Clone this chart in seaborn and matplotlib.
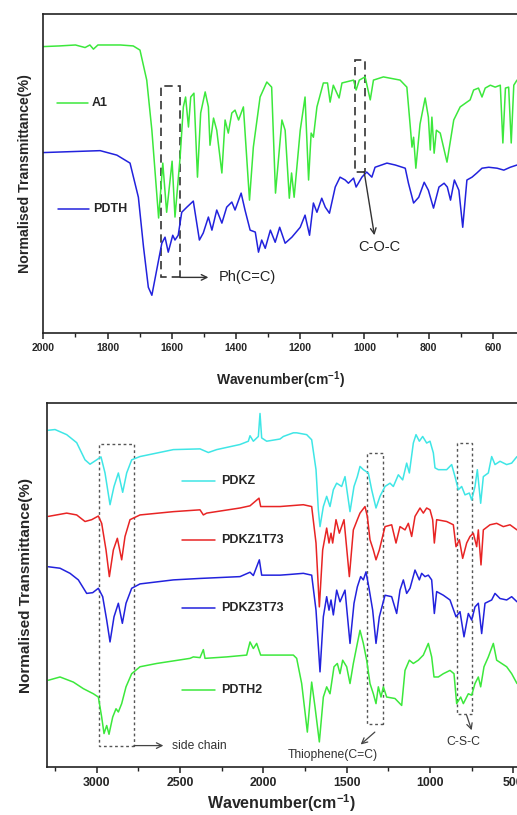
import matplotlib
matplotlib.use("Agg")
import matplotlib.pyplot as plt
from matplotlib.patches import Rectangle
from matplotlib.ticker import MultipleLocator
import seaborn as sns
import pandas as pd

# ---------------- data (top panel) ----------------
a1_wn = [2000, 1950, 1900, 1870, 1855, 1844, 1830, 1760, 1720, 1699, 1678, 1662, 1641, 1628, 1616,
         1599, 1590, 1574, 1564, 1557, 1548, 1541, 1531, 1520, 1510, 1496, 1486, 1481, 1470, 1460,
         1444, 1434, 1424, 1413, 1403, 1392, 1377, 1358, 1346, 1325, 1304, 1289, 1277, 1257, 1247,
         1234, 1227, 1219, 1200, 1185, 1174, 1166, 1159, 1148, 1128, 1115, 1107, 1097, 1079, 1070,
         1034, 1026, 1016, 998, 982, 972, 941, 889, 868, 858, 852, 847, 840, 827, 811, 801, 795,
         790, 783, 776, 764, 743, 722, 702, 681, 671, 660, 645, 634, 624, 608, 593, 577, 569, 561,
         551, 543, 535, 525]
a1_t = [89.8, 90.0, 90.3, 89.5, 90.3, 89.0, 90.3, 90.3, 90.0, 88.7, 79.3, 63.6, 36.1, 53.3, 37.9,
        53.9, 36.4, 55.2, 70.9, 74.0, 64.6, 74.0, 75.2, 48.9, 69.0, 75.6, 70.9, 58.9, 67.4, 63.6,
        50.2, 66.8, 62.7, 69.0, 69.9, 66.8, 70.9, 41.7, 58.3, 74.0, 78.7, 77.1, 43.9, 66.8, 63.6,
        42.3, 50.2, 42.6, 63.6, 74.0, 48.0, 62.7, 61.4, 70.9, 78.4, 78.4, 72.4, 77.7, 73.7, 78.4,
        79.3, 76.2, 79.3, 80.3, 73.1, 79.3, 80.3, 79.3, 77.1, 65.5, 58.3, 61.4, 51.7, 65.5, 73.7,
        67.7, 57.4, 67.7, 56.4, 63.6, 62.7, 53.6, 66.8, 70.9, 72.4, 73.1, 76.2, 76.8, 74.0, 76.8,
        77.7, 77.1, 77.7, 59.6, 76.8, 77.1, 59.6, 77.7, 79.3]

pdth_wn = [2000, 1823, 1771, 1730, 1704, 1688, 1673, 1662, 1647, 1631, 1621, 1611, 1597, 1590, 1580,
           1569, 1553, 1533, 1514, 1502, 1486, 1475, 1460, 1444, 1429, 1413, 1403, 1384, 1372, 1356,
           1340, 1330, 1320, 1309, 1293, 1278, 1264, 1247, 1226, 1200, 1185, 1171, 1159, 1148, 1133,
           1122, 1109, 1091, 1076, 1060, 1050, 1034, 1026, 1008, 993, 977, 967, 930, 904, 873, 863,
           847, 831, 814, 801, 785, 768, 752, 742, 732, 720, 706, 694, 681, 665, 650, 634, 613, 587,
           566, 546, 525]
pdth_t = [56.6, 57.2, 55.8, 53.3, 42.6, 27.0, 14.4, 11.9, 19.8, 28.2, 30.1, 25.4, 30.7, 29.2, 30.7,
          37.9, 39.5, 41.4, 29.2, 31.4, 36.4, 32.3, 38.6, 34.5, 39.5, 41.1, 38.6, 43.9, 38.6, 32.3,
          31.7, 25.4, 29.2, 26.6, 32.3, 28.5, 33.2, 28.2, 30.1, 33.2, 37.0, 30.7, 40.8, 37.9, 42.3,
          39.5, 37.6, 45.8, 48.9, 48.0, 47.0, 48.6, 45.8, 48.9, 50.5, 48.9, 52.0, 53.3, 52.7, 51.7,
          47.0, 40.8, 42.6, 47.3, 44.8, 39.2, 45.8, 47.0, 45.8, 41.7, 48.0, 44.8, 33.2, 48.0, 48.9,
          50.2, 51.7, 52.0, 51.7, 51.1, 52.0, 52.7]

# ---------------- data (bottom panel) ----------------
pdkz_wn = [3290, 3250, 3180, 3120, 3070, 3040, 3000, 2974, 2950, 2920, 2896, 2870, 2844, 2820, 2790,
           2740, 2540, 2380, 2330, 2280, 2140, 2090, 2080, 2060, 2030, 2020, 2010, 1980, 1900, 1880,
           1820, 1800, 1740, 1710, 1684, 1670, 1660, 1640, 1620, 1600, 1580, 1560, 1530, 1510, 1480,
           1456, 1436, 1420, 1400, 1370, 1350, 1324, 1300, 1270, 1240, 1220, 1190, 1164, 1140, 1124,
           1100, 1084, 1064, 1044, 1020, 1000, 980, 970, 950, 900, 870, 850, 830, 810, 790, 764, 750,
           730, 716, 696, 680, 650, 630, 610, 580, 540, 510, 478]
pdkz_t = [92.4, 92.6, 91.2, 89.0, 84.3, 83.1, 84.3, 85.1, 80.7, 72.0, 77.0, 80.7, 75.4, 80.7, 84.3,
          85.2, 87.1, 87.3, 86.3, 87.1, 88.5, 89.4, 90.9, 89.4, 90.7, 97.0, 90.3, 89.4, 90.0, 90.7,
          91.7, 91.7, 91.2, 89.8, 81.6, 70.6, 66.0, 71.5, 74.3, 71.5, 76.1, 77.9, 77.0, 79.7, 70.1,
          77.0, 79.7, 82.5, 81.6, 80.7, 76.1, 71.1, 74.3, 77.0, 77.9, 77.0, 80.2, 78.8, 83.4, 80.7,
          88.9, 91.2, 89.4, 90.7, 88.9, 89.4, 86.2, 82.1, 81.6, 81.6, 83.0, 79.7, 76.1, 77.0, 74.7,
          75.2, 73.3, 77.0, 81.6, 72.4, 79.7, 80.7, 85.2, 83.0, 83.9, 83.0, 83.4, 85.2]

pdkz1_wn = [3290, 3180, 3120, 3070, 3030, 2990, 2970, 2944, 2924, 2900, 2876, 2850, 2830, 2800, 2740,
            2540, 2380, 2360, 2340, 2140, 2080, 2026, 2016, 1900, 1760, 1710, 1684, 1664, 1644, 1620,
            1606, 1594, 1584, 1564, 1544, 1516, 1484, 1460, 1436, 1420, 1390, 1376, 1360, 1340, 1324,
            1304, 1270, 1230, 1204, 1180, 1150, 1130, 1110, 1090, 1060, 1040, 1020, 1000, 984, 974,
            960, 900, 860, 844, 824, 804, 780, 760, 740, 720, 710, 694, 680, 640, 600, 560, 520, 478]
pdkz1_t = [68.8, 69.7, 69.2, 67.4, 67.9, 68.9, 66.9, 59.6, 52.3, 59.6, 62.8, 56.9, 63.3, 67.9, 69.2,
           70.1, 70.6, 69.2, 69.7, 71.1, 71.7, 73.8, 71.5, 71.5, 72.0, 71.5, 61.5, 44.0, 59.6, 65.6,
           61.5, 64.2, 61.5, 67.9, 64.2, 67.9, 52.3, 65.1, 67.9, 69.7, 71.5, 68.8, 62.4, 59.6, 56.9,
           59.6, 66.0, 66.5, 61.5, 66.0, 65.1, 66.9, 63.3, 68.8, 71.1, 69.7, 71.1, 70.6, 67.9, 61.5,
           67.9, 67.4, 66.5, 60.5, 62.4, 57.3, 61.5, 63.3, 64.2, 60.5, 65.1, 55.5, 65.1, 66.5, 66.9,
           66.0, 66.5, 65.1]

pdkz3_wn = [3290, 3220, 3160, 3110, 3060, 3024, 2990, 2964, 2940, 2920, 2896, 2870, 2846, 2824, 2790,
            2740, 2540, 2380, 2140, 2080, 2060, 2024, 2010, 1900, 1840, 1760, 1710, 1684, 1660, 1640,
            1620, 1606, 1594, 1580, 1560, 1540, 1510, 1480, 1456, 1436, 1416, 1400, 1384, 1364, 1344,
            1324, 1304, 1270, 1230, 1200, 1180, 1160, 1140, 1120, 1090, 1064, 1050, 1030, 1010, 990,
            974, 960, 920, 880, 844, 820, 796, 770, 750, 730, 710, 690, 670, 630, 610, 580, 540, 510, 478]
pdkz3_t = [55.0, 54.6, 53.2, 51.4, 47.7, 47.9, 49.1, 46.8, 40.4, 34.4, 41.3, 45.0, 39.5, 45.0, 49.1,
           50.3, 51.4, 51.8, 52.3, 53.5, 52.6, 56.9, 52.7, 52.7, 52.9, 53.2, 52.7, 43.1, 26.2, 41.3,
           46.8, 43.1, 45.9, 41.8, 48.6, 45.4, 48.6, 34.0, 45.0, 49.5, 52.3, 51.4, 53.6, 48.6, 43.1,
           34.0, 41.3, 47.2, 46.8, 42.2, 48.6, 51.4, 47.7, 49.1, 54.1, 51.4, 53.2, 52.3, 52.7, 51.4,
           42.2, 48.2, 47.2, 45.9, 41.3, 42.7, 35.8, 42.2, 40.4, 44.0, 45.0, 36.7, 45.0, 45.9, 47.7,
           46.3, 45.9, 46.8, 45.4]

pdth2_wn = [3290, 3220, 3140, 3080, 3020, 2990, 2970, 2956, 2940, 2926, 2904, 2884, 2870, 2850, 2824,
            2790, 2740, 2640, 2540, 2440, 2420, 2380, 2360, 2350, 2220, 2100, 2080, 2060, 2040, 2016,
            1900, 1820, 1800, 1770, 1736, 1710, 1690, 1664, 1640, 1620, 1600, 1576, 1556, 1540, 1524,
            1500, 1480, 1460, 1436, 1420, 1400, 1380, 1360, 1340, 1324, 1310, 1294, 1280, 1260, 1210,
            1170, 1150, 1124, 1100, 1070, 1040, 1010, 990, 976, 950, 920, 880, 856, 840, 816, 800, 770,
            750, 730, 710, 696, 676, 650, 620, 600, 570, 540, 510, 478]
pdth2_t = [23.9, 24.8, 23.4, 21.6, 20.2, 19.3, 13.8, 9.3, 11.5, 9.1, 13.8, 16.1, 15.2, 17.5, 22.1,
           25.7, 27.6, 28.5, 29.2, 29.9, 30.3, 30.1, 32.3, 29.9, 30.3, 30.8, 34.4, 32.6, 34.0, 30.8,
           30.8, 30.8, 29.9, 23.0, 9.7, 23.4, 16.6, 7.0, 19.3, 22.1, 20.2, 27.6, 28.5, 25.7, 29.4,
           27.6, 23.0, 28.5, 34.0, 37.6, 34.0, 29.4, 23.0, 20.2, 17.5, 22.1, 19.3, 22.1, 19.3, 18.9,
           17.0, 26.6, 29.4, 28.5, 29.4, 30.8, 34.0, 30.3, 24.8, 24.8, 25.7, 26.6, 25.7, 17.5, 19.3,
           17.5, 20.2, 19.8, 23.0, 24.8, 22.1, 27.6, 30.3, 34.0, 29.4, 28.5, 27.6, 25.7, 23.0]

top_ticks = [2000, 1800, 1600, 1400, 1200, 1000, 800, 600]
bottom_ticks = [3000, 2500, 2000, 1500, 1000, 500]

# ---------------- style ----------------
sns.set_style("white")
plt.rcParams["font.family"] = ["Liberation Sans", "DejaVu Sans"]
plt.rcParams["mathtext.fontset"] = "custom"
plt.rcParams["mathtext.bf"] = "Liberation Sans:bold"
plt.rcParams["mathtext.rm"] = "Liberation Sans:bold"
plt.rcParams["mathtext.default"] = "bf"

GREEN = "#3ce83c"
BLUE = "#2222dd"
CYAN = "#3fe6e6"
RED = "#e82424"
BOX = "#333333"

fig = plt.figure(figsize=(5.17, 8.15), dpi=100)
ax1 = fig.add_axes([0.0838, 0.5911, 1.0 - 0.0838, 0.3917])
ax2 = fig.add_axes([0.0903, 0.0583, 1.0 - 0.0903, 0.4478])

def draw(ax, wn, t, color, lw=1.1):
    df = pd.DataFrame({"wn": wn, "t": t})
    sns.lineplot(data=df, x="wn", y="t", ax=ax, color=color, linewidth=lw,
                 estimator=None, sort=True, legend=False)

def style_axes(ax, xlim, ticks, minor, tick_fs, xlabel_fs, ylabel_fs, ylabel_pad):
    ax.set_xlim(*xlim)
    ax.set_ylim(0, 100)
    ax.set_xticks(ticks)
    ax.set_xticklabels([str(v) for v in ticks], fontweight="bold", fontsize=tick_fs)
    ax.xaxis.set_minor_locator(MultipleLocator(minor))
    ax.set_yticks([])
    ax.tick_params(axis="x", which="major", direction="out", length=4, width=1.1,
                   color="#222222", pad=3, bottom=True)
    ax.tick_params(axis="x", which="minor", direction="out", length=3, width=1.0,
                   color="#222222", bottom=True)
    for s in ["left", "top", "bottom"]:
        ax.spines[s].set_visible(True)
        ax.spines[s].set_color("#222222")
        ax.spines[s].set_linewidth(1.2)
    ax.spines["right"].set_visible(False)
    ax.set_xlabel(r"Wavenumber(cm$^{-1}$)", fontweight="bold", fontsize=xlabel_fs)
    ax.set_ylabel("Normalised Transmittance(%)", fontweight="bold", fontsize=ylabel_fs,
                  labelpad=ylabel_pad)

# ---------------- top panel ----------------
draw(ax1, pdth_wn, pdth_t, BLUE)
draw(ax1, a1_wn, a1_t, GREEN)
style_axes(ax1, (2000, 525), top_ticks, 100, 7.5, 10, 10.2, 8)
ax1.xaxis.labelpad = 12

ax1.plot([1958, 1860], [72.2, 72.2], color=GREEN, lw=1.1)
ax1.text(1849, 72.2, "A1", fontweight="bold", fontsize=9, va="center", ha="left")
ax1.plot([1954, 1858], [38.9, 38.9], color=BLUE, lw=1.1)
ax1.text(1845, 38.9, "PDTH", fontweight="bold", fontsize=9, va="center", ha="left")

ax1.add_patch(Rectangle((1574, 17.5), 60, 60, fill=False, ls=(0, (5, 3)), lw=1.2, ec=BOX))
ax1.annotate("", xy=(1486, 17.5), xytext=(1574, 17.5),
             arrowprops=dict(arrowstyle="->", color=BOX, lw=1.0, shrinkA=0, shrinkB=0))
ax1.text(1455, 17.5, "Ph(C=C)", fontsize=10.5, color="#222222", va="center", ha="left")

ax1.add_patch(Rectangle((998, 50.6), 33, 35.0, fill=False, ls=(0, (5, 3)), lw=1.2, ec=BOX))
ax1.annotate("", xy=(969, 30.7), xytext=(1001, 50.6),
             arrowprops=dict(arrowstyle="->", color=BOX, lw=1.0, shrinkA=0, shrinkB=0))
ax1.text(954, 27.1, "C-O-C", fontsize=10.5, color="#222222", va="center", ha="center")

# ---------------- bottom panel ----------------
draw(ax2, pdth2_wn, pdth2_t, GREEN)
draw(ax2, pdkz3_wn, pdkz3_t, BLUE)
draw(ax2, pdkz1_wn, pdkz1_t, RED)
draw(ax2, pdkz_wn, pdkz_t, CYAN)
style_axes(ax2, (3300, 478), bottom_ticks, 250, 8.8, 11.5, 11, 10)
ax2.xaxis.labelpad = 2

legend_items = [("PDKZ", CYAN, 78.6), ("PDKZ1T73", RED, 62.4),
                ("PDKZ3T73", BLUE, 43.6), ("PDTH2", GREEN, 21.3)]
for name, col, yv in legend_items:
    ax2.plot([2490, 2290], [yv, yv], color=col, lw=1.1)
    ax2.text(2255, yv, name, fontweight="bold", fontsize=9, va="center", ha="left")

dot = (0, (2, 2))
ax2.add_patch(Rectangle((2776, 6.0), 212, 82.5, fill=False, ls=dot, lw=1.0, ec="#555555"))
ax2.annotate("", xy=(2600, 6.0), xytext=(2776, 6.0),
             arrowprops=dict(arrowstyle="->", color="#444444", lw=0.9, shrinkA=0, shrinkB=0))
ax2.text(2550, 6.0, "side chain", fontsize=8.7, color="#333333", va="center", ha="left")

ax2.add_patch(Rectangle((1280, 12.0), 96, 74.2, fill=False, ls=dot, lw=1.0, ec="#555555"))
ax2.annotate("", xy=(1416, 6.3), xytext=(1331, 9.7),
             arrowprops=dict(arrowstyle="->", color="#444444", lw=0.9, shrinkA=0, shrinkB=0))
ax2.text(1582, 3.3, "Thiophene(C=C)", fontsize=8.7, color="#333333", va="center", ha="center")

ax2.add_patch(Rectangle((746, 14.6), 94, 74.3, fill=False, ls=dot, lw=1.0, ec="#555555"))
ax2.annotate("", xy=(750, 10.2), xytext=(780, 14.3),
             arrowprops=dict(arrowstyle="->", color="#444444", lw=0.9, shrinkA=0, shrinkB=0))
ax2.text(800, 6.9, "C-S-C", fontsize=8.8, color="#333333", va="center", ha="center")

fig.savefig("out.png", dpi=100, facecolor="white")
